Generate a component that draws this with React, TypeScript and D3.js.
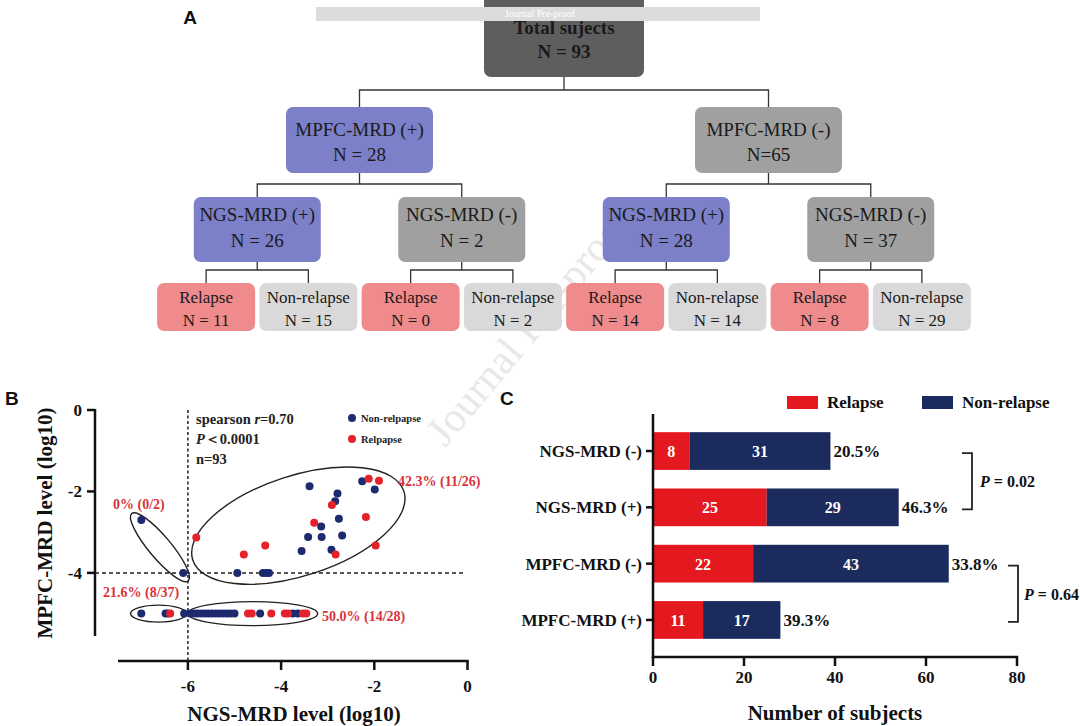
import React from "react";
import * as d3 from "d3";

const W = 1080;
const H = 726;
const SERIF = "'Liberation Serif', 'Times New Roman', serif";
const SANS = "'Liberation Sans', Arial, sans-serif";

// ---------- Panel A data ----------
const rootLines = ["Total  sujects", "N = 93"];
const level2Names = ["MPFC-MRD (+)", "MPFC-MRD (-)"];
const level2Counts = ["N = 28", "N=65"];
const level2Positive = [true, false];
const level3Names = ["NGS-MRD (+)", "NGS-MRD (-)", "NGS-MRD (+)", "NGS-MRD (-)"];
const level3Counts = ["N = 26", "N = 2", "N = 28", "N = 37"];
const level3Positive = [true, false, true, false];
const leafNames = ["Relapse", "Non-relapse", "Relapse", "Non-relapse", "Relapse", "Non-relapse", "Relapse", "Non-relapse"];
const leafCounts = [11, 15, 0, 2, 14, 14, 8, 29];

// ---------- Panel B data (NGS log10, MPFC log10) ----------
const nonRelapsePoints: [number, number][] = [
  [-7.0, -2.7], [-6.1, -4.0], [-4.94, -4.0], [-4.39, -4.0], [-4.32, -4.0], [-4.26, -4.0],
  [-3.39, -1.87], [-2.79, -2.05], [-2.84, -2.24], [-3.14, -2.86], [-2.76, -2.67],
  [-3.42, -3.12], [-3.13, -3.12], [-2.69, -3.08], [-3.56, -3.46], [-2.92, -3.43],
  [-2.26, -1.75], [-1.99, -1.95],
  [-7.0, -5], [-6.48, -5], [-6.43, -5], [-6.08, -5],
  [-5.95, -5], [-5.88, -5], [-5.8, -5], [-5.72, -5], [-5.64, -5], [-5.56, -5], [-5.48, -5],
  [-5.4, -5], [-5.32, -5], [-5.24, -5], [-5.16, -5], [-5.08, -5], [-5.0, -5],
  [-4.45, -5], [-3.75, -5], [-3.64, -5],
];
const relapsePoints: [number, number][] = [
  [-5.82, -3.13], [-4.8, -3.55], [-4.34, -3.33], [-2.91, -2.33], [-3.29, -2.77],
  [-2.83, -3.55], [-2.12, -1.69], [-1.9, -1.74], [-2.18, -2.63], [-1.97, -3.33],
  [-6.38, -5], [-4.71, -5], [-4.63, -5], [-4.21, -5], [-3.92, -5], [-3.85, -5],
  [-3.53, -5], [-3.46, -5],
];
const scatterXTicks = [-6, -4, -2, 0];
const scatterYTicks = [0, -2, -4];
const groupEllipses = [
  { cx: -3.63, cy: -2.84, rx: 111, ry: 50, rot: -18 },
  { cx: -6.6, cy: -3.37, rx: 44, ry: 11, rot: 50 },
  { cx: -6.63, cy: -5, rx: 28, ry: 8.5, rot: 0 },
  { cx: -4.61, cy: -5, rx: 65, ry: 12, rot: 0 },
];
const groupRates = ["42.3% (11/26)", "0% (0/2)", "21.6% (8/37)", "50.0% (14/28)"];

// ---------- Panel C data ----------
const barCategories = ["NGS-MRD (-)", "NGS-MRD (+)", "MPFC-MRD (-)", "MPFC-MRD (+)"];
const barRelapse = [8, 25, 22, 11];
const barNonRelapse = [31, 29, 43, 17];
const barPercent = ["20.5%", "46.3%", "33.8%", "39.3%"];
const barXTicks = [0, 20, 40, 60, 80];

const NAVY_DOT = "#1e2a6e";
const RED_DOT = "#e5212b";
const NAVY_BAR = "#1c2b5e";
const RED_BAR = "#e4191f";
const LABEL_RED = "#d8333b";

function Box({ cx, y, w, h, fill, lines, size, bold, dy }: any) {
  return (
    <g>
      <rect x={cx - w / 2} y={y} width={w} height={h} rx={7} fill={fill} />
      {lines.map((t: string, i: number) => (
        <text key={i} x={cx} y={y + dy[i]} textAnchor="middle" fontFamily={SERIF}
          fontSize={size} fontWeight={bold ? "bold" : "normal"} fill="#1a1a1a">{t}</text>
      ))}
    </g>
  );
}

function PanelA() {
  const leafX = d3.scaleBand<number>().domain(d3.range(leafNames.length)).range([155, 973]);
  const lx = (i: number) => (leafX(i) as number) + leafX.bandwidth() / 2;
  const l3x = level3Names.map((_, i) => (lx(2 * i) + lx(2 * i + 1)) / 2);
  const l2x = level2Names.map((_, i) => (l3x[2 * i] + l3x[2 * i + 1]) / 2);
  const rootX = (l2x[0] + l2x[1]) / 2;
  const BLUE = "#7b80c8", GRAY = "#a0a0a0", PINK = "#ef8b8c", LGRAY = "#d9d9d9";
  const stroke = { stroke: "#333", strokeWidth: 1.3, fill: "none" };
  const connector = (px: number, y0: number, ym: number, y1: number, xs: number[]) => (
    <path {...stroke} d={`M${px},${y0}V${ym}M${xs[0]},${y1}V${ym}H${xs[1]}V${y1}`} />
  );
  return (
    <g>
      {connector(rootX, 77, 90, 107, l2x)}
      {l2x.map((x, i) => <g key={i}>{connector(x, 173, 184, 197, [l3x[2 * i], l3x[2 * i + 1]])}</g>)}
      {l3x.map((x, i) => <g key={i}>{connector(x, 262, 270, 283, [lx(2 * i), lx(2 * i + 1)])}</g>)}
      <Box cx={rootX} y={-10} w={160} h={87} fill="#5e5e5e" lines={rootLines} size={19} bold dy={[44, 68]} />
      {l2x.map((x, i) => (
        <Box key={i} cx={x} y={107} w={147} h={66} fill={level2Positive[i] ? BLUE : GRAY}
          lines={[level2Names[i], level2Counts[i]]} size={19} dy={[29, 54]} />
      ))}
      {l3x.map((x, i) => (
        <Box key={i} cx={x} y={197} w={127} h={65} fill={level3Positive[i] ? BLUE : GRAY}
          lines={[level3Names[i], level3Counts[i]]} size={19} dy={[24, 50]} />
      ))}
      {leafNames.map((n, i) => (
        <Box key={i} cx={lx(i)} y={283} w={98} h={48} fill={n === "Relapse" ? PINK : LGRAY}
          lines={[n, `N = ${leafCounts[i]}`]} size={17} dy={[20, 43]} />
      ))}
      <rect x={316} y={7} width={444} height={14} fill="#dcdcdc" />
      <text x={540} y={17} textAnchor="middle" fontFamily={SERIF} fontSize={10} fill="#ffffff">Journal Pre-proof</text>
      <text x={190} y={24} textAnchor="middle" fontFamily={SANS} fontWeight="bold" fontSize={19} fill="#111">A</text>
    </g>
  );
}

function PanelB() {
  const x = d3.scaleLinear().domain([-7.5, 0]).range([118, 467.5]);
  const y = d3.scaleLinear().domain([0, -5.55]).range([410, 636]);
  const axisY = 661;
  const yAxisX = 95;
  return (
    <g>
      <text x={5} y={405} fontFamily={SANS} fontWeight="bold" fontSize={19} fill="#111">B</text>
      {/* reference lines */}
      <line x1={x(-6)} x2={x(-6)} y1={y(0)} y2={axisY} stroke="#222" strokeWidth={1.5} strokeDasharray="3,2.5" />
      <line x1={yAxisX} x2={465} y1={y(-4)} y2={y(-4)} stroke="#222" strokeWidth={1.5} strokeDasharray="4,3" />
      {/* axes */}
      <line x1={yAxisX} x2={yAxisX} y1={y(0) - 1} y2={y(-5.55)} stroke="#111" strokeWidth={2.5} />
      {scatterYTicks.map((t) => (
        <g key={t}>
          <line x1={yAxisX - 8} x2={yAxisX} y1={y(t)} y2={y(t)} stroke="#111" strokeWidth={2.5} />
          <text x={yAxisX - 13} y={y(t) + 6} textAnchor="end" fontFamily={SERIF} fontWeight="bold" fontSize={17} fill="#111">{t === 0 ? "0" : `-${Math.abs(t)}`}</text>
        </g>
      ))}
      <line x1={x(-7.5)} x2={x(0) + 1.2} y1={axisY} y2={axisY} stroke="#111" strokeWidth={2.5} />
      {scatterXTicks.map((t) => (
        <g key={t}>
          <line x1={x(t)} x2={x(t)} y1={axisY} y2={axisY + 9} stroke="#111" strokeWidth={2.5} />
          <text x={x(t)} y={axisY + 31} textAnchor="middle" fontFamily={SERIF} fontWeight="bold" fontSize={17} fill="#111">{t === 0 ? "0" : `-${Math.abs(t)}`}</text>
        </g>
      ))}
      <text x={294} y={721} textAnchor="middle" fontFamily={SERIF} fontWeight="bold" fontSize={21} fill="#111">NGS-MRD level (log10)</text>
      <text transform={`translate(52,${523}) rotate(-90)`} textAnchor="middle" fontFamily={SERIF} fontWeight="bold" fontSize={21} fill="#111">MPFC-MRD level (log10)</text>
      {/* ellipses */}
      {groupEllipses.map((e, i) => (
        <ellipse key={i} cx={0} cy={0} rx={e.rx} ry={e.ry} fill="none" stroke="#222" strokeWidth={1.4}
          transform={`translate(${x(e.cx)},${y(e.cy)}) rotate(${e.rot})`} />
      ))}
      {/* points */}
      {nonRelapsePoints.map((p, i) => (
        <circle key={`n${i}`} cx={x(p[0])} cy={y(p[1])} r={4} fill={NAVY_DOT} />
      ))}
      {relapsePoints.map((p, i) => (
        <circle key={`r${i}`} cx={x(p[0])} cy={y(p[1])} r={4} fill={RED_DOT} />
      ))}
      {/* group rate labels */}
      <text x={398} y={486} fontFamily={SERIF} fontWeight="bold" fontSize={14} fill={LABEL_RED}>{groupRates[0]}</text>
      <text x={113} y={509} fontFamily={SERIF} fontWeight="bold" fontSize={14} fill={LABEL_RED}>{groupRates[1]}</text>
      <text x={103} y={597} fontFamily={SERIF} fontWeight="bold" fontSize={14} fill={LABEL_RED}>{groupRates[2]}</text>
      <text x={322} y={621} fontFamily={SERIF} fontWeight="bold" fontSize={14} fill={LABEL_RED}>{groupRates[3]}</text>
      {/* stats */}
      <text x={196} y={424} fontFamily={SERIF} fontWeight="bold" fontSize={14.5} fill="#222">spearson <tspan fontStyle="italic">r</tspan>=0.70</text>
      <text x={196} y={444} fontFamily={SERIF} fontWeight="bold" fontSize={14.5} fill="#222"><tspan fontStyle="italic">P</tspan>＜0.0001</text>
      <text x={196} y={464} fontFamily={SERIF} fontWeight="bold" fontSize={14.5} fill="#222">n=93</text>
      {/* legend */}
      <circle cx={352} cy={418} r={4} fill={NAVY_DOT} />
      <text x={361} y={422} fontFamily={SERIF} fontWeight="bold" fontSize={10.5} fill="#222">Non-relpapse</text>
      <circle cx={352} cy={439} r={4} fill={RED_DOT} />
      <text x={361} y={443} fontFamily={SERIF} fontWeight="bold" fontSize={10.5} fill="#222">Relpapse</text>
    </g>
  );
}

function PanelC() {
  const x = d3.scaleLinear().domain([0, 80]).range([653, 1017]);
  const y = d3.scaleBand().domain(barCategories).range([422.6, 648.4]).paddingInner(0.33).paddingOuter(0.17);
  const bw = y.bandwidth();
  const axisY = 657;
  const yc = (c: string) => (y(c) as number) + bw / 2;
  const bracket = (a: number, b: number, bx: number, label: string, tx: number) => {
    const y0 = yc(barCategories[a]) + 2;
    const y1 = yc(barCategories[b]) + 2;
    return (
      <g>
        <path d={`M${bx - 10},${y0}H${bx}V${y1}H${bx - 10}`} fill="none" stroke="#222" strokeWidth={1.8} />
        <text x={tx} y={(y0 + y1) / 2 + 6} fontFamily={SERIF} fontWeight="bold" fontSize={16} fill="#111">
          <tspan fontStyle="italic">P</tspan> = {label}
        </text>
      </g>
    );
  };
  return (
    <g>
      <text x={500} y={405} fontFamily={SANS} fontWeight="bold" fontSize={19} fill="#111">C</text>
      {/* legend */}
      <rect x={787} y={396} width={31} height={13} fill={RED_BAR} />
      <text x={827} y={408} fontFamily={SERIF} fontWeight="bold" fontSize={17} fill="#111">Relapse</text>
      <rect x={922} y={396} width={31} height={13} fill={NAVY_BAR} />
      <text x={962} y={408} fontFamily={SERIF} fontWeight="bold" fontSize={17} fill="#111">Non-relapse</text>
      {/* bars */}
      {barCategories.map((c, i) => {
        const top = y(c) as number;
        const r = barRelapse[i];
        const n = barNonRelapse[i];
        return (
          <g key={c}>
            <rect x={x(0)} y={top} width={x(r) - x(0)} height={bw} fill={RED_BAR} />
            <rect x={x(r)} y={top} width={x(r + n) - x(r)} height={bw} fill={NAVY_BAR} />
            <text x={(x(0) + x(r)) / 2} y={top + bw / 2 + 6} textAnchor="middle" fontFamily={SERIF} fontWeight="bold" fontSize={16} fill="#fff">{r}</text>
            <text x={(x(r) + x(r + n)) / 2} y={top + bw / 2 + 6} textAnchor="middle" fontFamily={SERIF} fontWeight="bold" fontSize={16} fill="#fff">{n}</text>
            <text x={x(r + n) + 3} y={top + bw / 2 + 6} fontFamily={SERIF} fontWeight="bold" fontSize={17} fill="#111">{barPercent[i]}</text>
            <line x1={x(0) - 7} x2={x(0)} y1={top + bw / 2} y2={top + bw / 2} stroke="#111" strokeWidth={2.5} />
            <text x={x(0) - 11} y={top + bw / 2 + 6} textAnchor="end" fontFamily={SERIF} fontWeight="bold" fontSize={17} fill="#111">{c}</text>
          </g>
        );
      })}
      {/* axes */}
      <line x1={x(0)} x2={x(0)} y1={414} y2={axisY + 1.2} stroke="#111" strokeWidth={2.5} />
      <line x1={x(0) - 1.2} x2={x(80) + 1.2} y1={axisY} y2={axisY} stroke="#111" strokeWidth={2.5} />
      {barXTicks.map((t) => (
        <g key={t}>
          <line x1={x(t)} x2={x(t)} y1={axisY} y2={axisY + 9} stroke="#111" strokeWidth={2.5} />
          <text x={x(t)} y={axisY + 26} textAnchor="middle" fontFamily={SERIF} fontWeight="bold" fontSize={17} fill="#111">{t}</text>
        </g>
      ))}
      <text x={835} y={720} textAnchor="middle" fontFamily={SERIF} fontWeight="bold" fontSize={21} fill="#111">Number of subjects</text>
      {bracket(0, 1, 972, "0.02", 980)}
      {bracket(2, 3, 1018, "0.64", 1024)}
    </g>
  );
}

export default function App() {
  return (
    <svg width={W} height={H} viewBox={`0 0 ${W} ${H}`} style={{ display: "block", position: "absolute", left: 0, top: 0, background: "#fff" }}>
      <rect width={W} height={H} fill="#fff" />
      <text transform="translate(540,335) rotate(-50)" textAnchor="middle" fontFamily={SERIF} fontSize={42} fill="#e8e8e8">Journal Pre-proof</text>
      <PanelA />
      <PanelB />
      <PanelC />
    </svg>
  );
}
